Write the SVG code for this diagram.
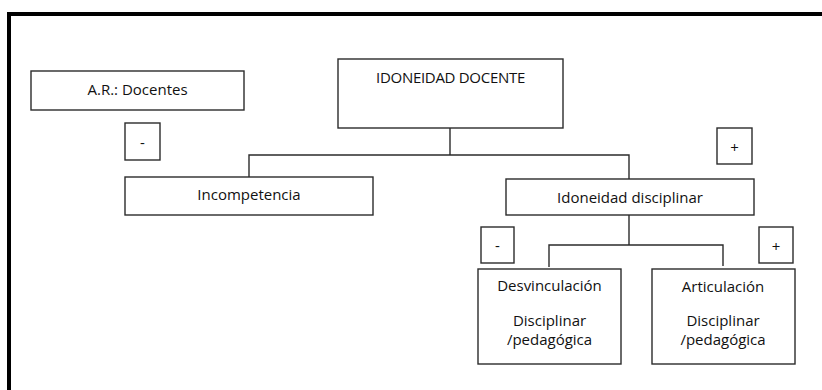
<svg xmlns="http://www.w3.org/2000/svg" width="822" height="390" viewBox="0 0 822 390">
<style>
.box{fill:#fff;stroke:#2b2b2b;stroke-width:1.4}
.ln{fill:none;stroke:#2b2b2b;stroke-width:1.4}
text{font-family:"Open Sans","Noto Sans",sans-serif;font-size:15px;fill:#111;text-anchor:middle;dominant-baseline:central}
.caps{letter-spacing:-0.3px}
</style>
<rect x="0" y="0" width="822" height="390" fill="#fff"/>
<path d="M9 400 V14 H830" fill="none" stroke="#000" stroke-width="4"/>
<g id="connectors">
<path class="ln" d="M450 128 V155 M249 177 V155 H629 V179"/>
<path class="ln" d="M629 215 V245 M549 267 V245 H723 V266"/>
</g>
<g id="ar"><rect class="box" x="31" y="71" width="213" height="39"/><text x="137.5" y="89">A.R.: Docentes</text></g>
<g id="minus1"><rect class="box" x="125" y="123" width="35" height="37"/><text x="142.5" y="142">-</text></g>
<g id="idoneidad"><rect class="box" x="338" y="59" width="225" height="69"/><text class="caps" x="450.5" y="77">IDONEIDAD DOCENTE</text></g>
<g id="plus1"><rect class="box" x="717" y="128" width="35" height="36"/><text x="734.5" y="147">+</text></g>
<g id="incompetencia"><rect class="box" x="125" y="177" width="248" height="38"/><text x="249" y="194">Incompetencia</text></g>
<g id="disciplinar"><rect class="box" x="506" y="179" width="248" height="36"/><text x="630" y="197">Idoneidad disciplinar</text></g>
<g id="minus2"><rect class="box" x="481" y="227" width="33" height="36"/><text x="497.5" y="245">-</text></g>
<g id="plus2"><rect class="box" x="759" y="227" width="34" height="36"/><text x="776" y="246">+</text></g>
<g id="desvinculacion"><rect class="box" x="478" y="269" width="143" height="95"/><text x="549.5" y="285">Desvinculación</text><text x="549.5" y="320">Disciplinar</text><text x="549.5" y="339">/pedagógica</text></g>
<g id="articulacion"><rect class="box" x="652" y="269" width="143" height="95"/><text x="723" y="286">Articulación</text><text x="723" y="320">Disciplinar</text><text x="723" y="339">/pedagógica</text></g>
</svg>
